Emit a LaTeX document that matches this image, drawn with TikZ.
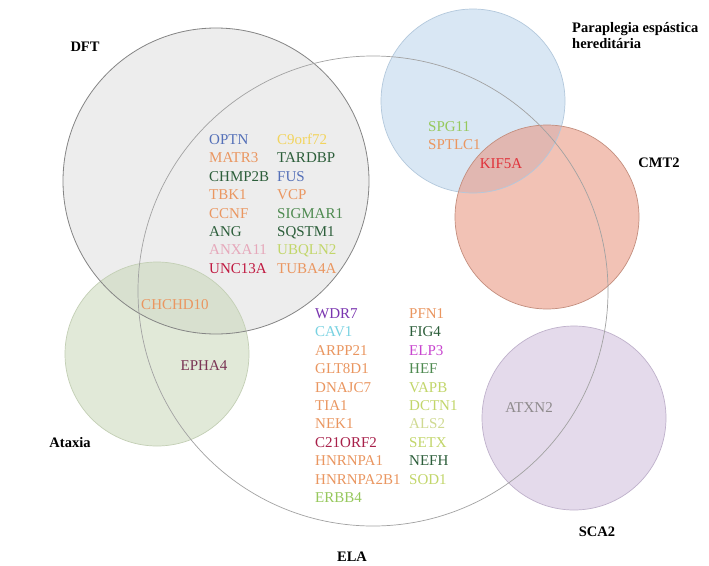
\documentclass[tikz,border=0pt]{standalone}
\usepackage{fontspec}
\setmainfont{Liberation Serif}
\usetikzlibrary{backgrounds,trees}

\definecolor{dftgray}{HTML}{DCDCDC}
\definecolor{dftline}{HTML}{858585}
\definecolor{elaline}{HTML}{A2A2A2}
\definecolor{ataxiagreen}{HTML}{C5D5B3}
\definecolor{ataxialine}{HTML}{C3CFB5}
\definecolor{hspblue}{HTML}{B5D1EB}
\definecolor{hspline}{HTML}{B3C8DC}
\definecolor{cmtsalmon}{HTML}{E8907A}
\definecolor{cmtline}{HTML}{C38E7E}
\definecolor{scapurple}{HTML}{CBB7D9}
\definecolor{scaline}{HTML}{BFB1CB}

\definecolor{geneblue}{HTML}{5470B8}
\definecolor{geneyellow}{HTML}{F2D45E}
\definecolor{geneorange}{HTML}{EA9660}
\definecolor{genedkgreen}{HTML}{2C5E3A}
\definecolor{genegreen}{HTML}{4E8A50}
\definecolor{genepink}{HTML}{E6A8BA}
\definecolor{genelime}{HTML}{C2D66A}
\definecolor{genepale}{HTML}{D0DA92}
\definecolor{genecrimson}{HTML}{C01840}
\definecolor{generuby}{HTML}{A8204A}
\definecolor{geneplum}{HTML}{7A3454}
\definecolor{genepurple}{HTML}{7A35B0}
\definecolor{genecyan}{HTML}{78D2E2}
\definecolor{genemagenta}{HTML}{C845CF}
\definecolor{genelightgreen}{HTML}{96C85C}
\definecolor{genered}{HTML}{E0323A}
\definecolor{genegray}{HTML}{8E8A8C}

\begin{document}
\begin{tikzpicture}[%
      x=1pt, y=-1pt,
      show background rectangle,
      inner frame sep=0pt,
      background rectangle/.style={fill=white},
      every node/.style={anchor=base west, inner sep=0pt,
                         font={\fontsize{15}{18}\selectfont}},
      list root/.style={anchor=center},
      set label/.style={anchor=center, align=left,
                        font={\fontsize{14.5}{15.5}\selectfont\bfseries}},
      edge from parent/.style={draw=none},
      grow via three points={one child at (0pt,-18.4pt) and
                             two children at (0pt,-18.4pt) and (0pt,-36.8pt)}
    ]
    \useasboundingbox (0,0) rectangle (709,565);

    \coordinate (DFT c) at (216,181);
    \coordinate (ELA c) at (373,291);
    \coordinate (Ataxia c) at (157,354);
    \coordinate (HSP c) at (473,101);
    \coordinate (CMT2 c) at (547,217);
    \coordinate (SCA2 c) at (574,418);

    \fill[fill=dftgray, fill opacity=.5] (DFT c) circle (153);
    \fill[fill=ataxiagreen, fill opacity=.5] (Ataxia c) circle (92);
    \fill[fill=hspblue, fill opacity=.5] (HSP c) circle (92);
    \fill[fill=cmtsalmon, fill opacity=.55] (CMT2 c) circle (92);
    \fill[fill=scapurple, fill opacity=.5] (SCA2 c) circle (92);

    \draw[draw=ataxialine, line width=.7pt] (Ataxia c) circle (92);
    \draw[draw=hspline, line width=.7pt] (HSP c) circle (92);
    \draw[draw=cmtline, line width=.7pt] (CMT2 c) circle (92);
    \draw[draw=scaline, line width=.7pt] (SCA2 c) circle (92);
    \draw[draw=dftline, line width=.8pt] (DFT c) circle (153);
    \draw[draw=elaline, line width=.7pt] (ELA c) circle (235);

    \node[set label] (DFT label) at (85,47) {DFT};
    \node[set label, anchor=west] (HSP label) at (572,35.5)
     {Paraplegia espástica\\hereditária};
    \node[set label] (CMT2 label) at (659,163) {CMT2};
    \node[set label] (Ataxia label) at (70,443) {Ataxia};
    \node[set label] (SCA2 label) at (597,532) {SCA2};
    \node[set label] (ELA label) at (352,557) {ELA};

    \node[list root] (DFT list A) at (209,126.1) {}
     child { node[text=geneblue] {OPTN} }
     child { node[text=geneorange] {MATR3} }
     child { node[text=genedkgreen] {CHMP2B} }
     child { node[text=geneorange] {TBK1} }
     child { node[text=geneorange] {CCNF} }
     child { node[text=genedkgreen] {ANG} }
     child { node[text=genepink] {ANXA11} }
     child { node[text=genecrimson] {UNC13A} };
    \node[list root] (DFT list B) at (277,126.1) {}
     child { node[text=geneyellow] {C9orf72} }
     child { node[text=genedkgreen] {TARDBP} }
     child { node[text=geneblue] {FUS} }
     child { node[text=geneorange] {VCP} }
     child { node[text=genegreen] {SIGMAR1} }
     child { node[text=genedkgreen] {SQSTM1} }
     child { node[text=genelime] {UBQLN2} }
     child { node[text=geneorange] {TUBA4A} };

    \node[list root] (ELA list A) at (315,300.1) {}
     child { node[text=genepurple] {WDR7} }
     child { node[text=genecyan] {CAV1} }
     child { node[text=geneorange] {ARPP21} }
     child { node[text=geneorange] {GLT8D1} }
     child { node[text=geneorange] {DNAJC7} }
     child { node[text=geneorange] {TIA1} }
     child { node[text=geneorange] {NEK1} }
     child { node[text=generuby] {C21ORF2} }
     child { node[text=geneorange] {HNRNPA1} }
     child { node[text=geneorange] {HNRNPA2B1} }
     child { node[text=genelightgreen] {ERBB4} };
    \node[list root] (ELA list B) at (409,300.1) {}
     child { node[text=geneorange] {PFN1} }
     child { node[text=genedkgreen] {FIG4} }
     child { node[text=genemagenta] {ELP3} }
     child { node[text=genegreen] {HEF} }
     child { node[text=genelime] {VAPB} }
     child { node[text=genelime] {DCTN1} }
     child { node[text=genepale] {ALS2} }
     child { node[text=genelime] {SETX} }
     child { node[text=genedkgreen] {NEFH} }
     child { node[text=genelime] {SOD1} };

    \node[list root] (HSP list) at (428,113.1) {}
     child { node[text=genelightgreen] {SPG11} }
     child { node[text=geneorange] {SPTLC1} };

    \node[anchor=base, text=geneorange] (CHCHD10) at (175,309) {CHCHD10};
    \node[anchor=base, text=geneplum] (EPHA4) at (204,370) {EPHA4};
    \node[anchor=base, text=genered] (KIF5A) at (501,168) {KIF5A};
    \node[anchor=base, text=genegray] (ATXN2) at (529,412) {ATXN2};
   \end{tikzpicture}
\end{document}
